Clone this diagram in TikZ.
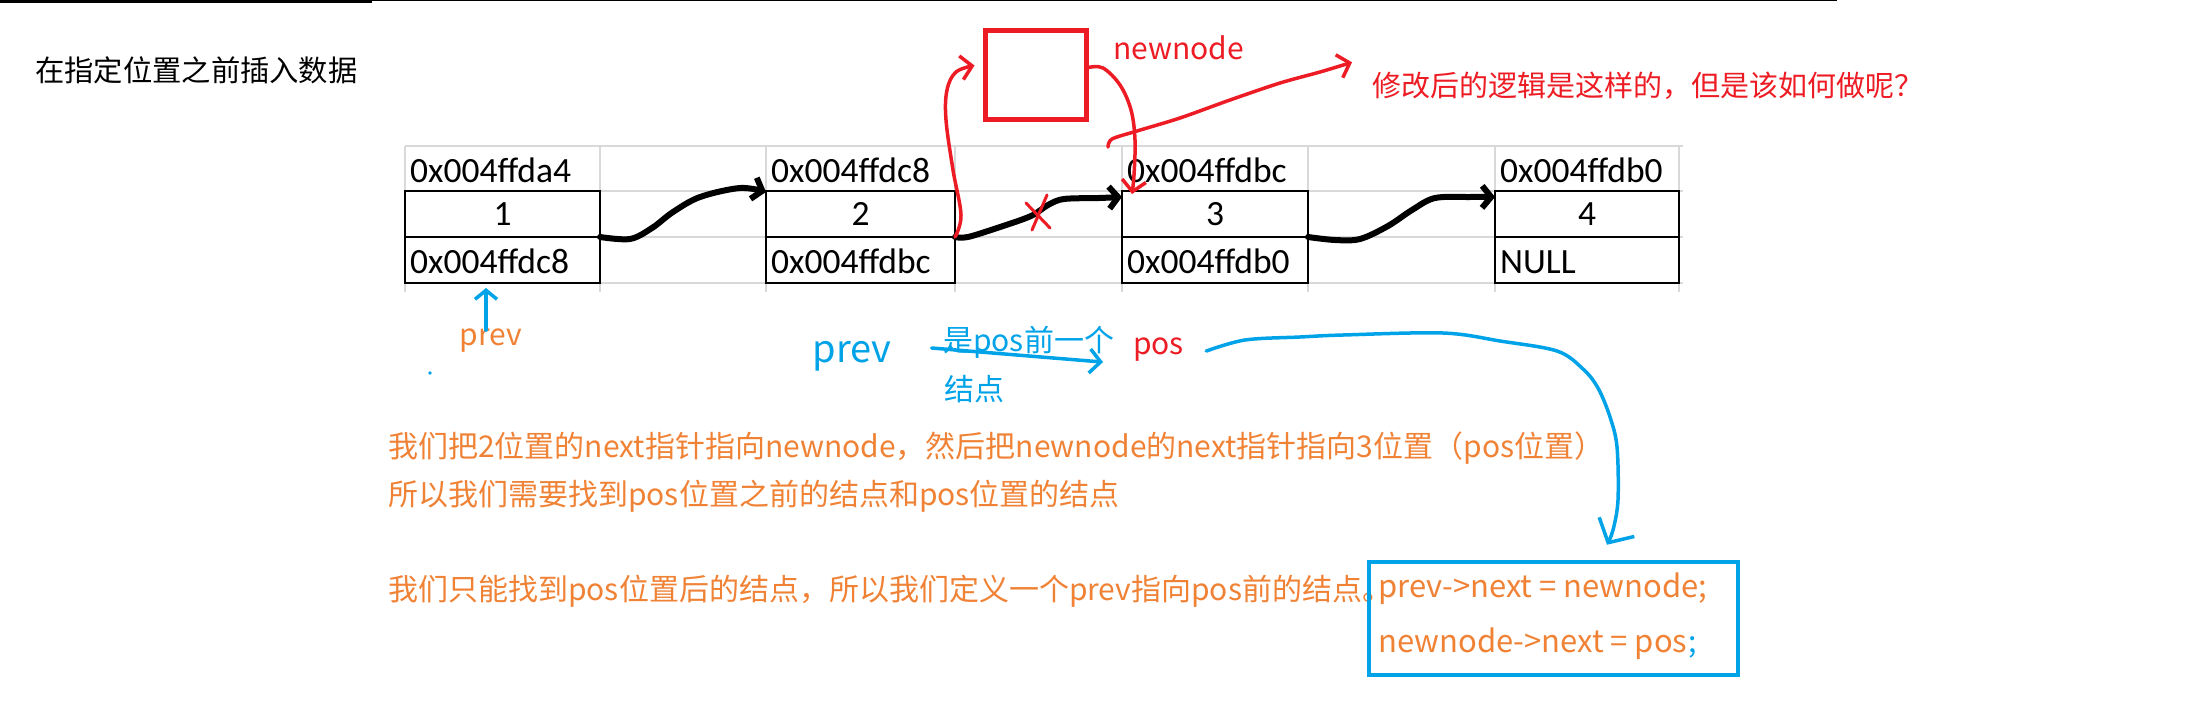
\documentclass[tikz,border=0pt]{standalone}
\usepackage{fontspec}
\setmainfont{Carlito}
\newfontfamily\cjk{Noto Sans CJK SC}
\usetikzlibrary{arrows.meta,calc}
\definecolor{pred}{HTML}{ED1C24}
\definecolor{pblue}{HTML}{00A2E8}
\definecolor{porange}{HTML}{F08236}
\definecolor{gridgray}{HTML}{D9D9D9}
\begin{document}
\begin{tikzpicture}[x=1pt,y=-1pt,
  gridline/.style={gridgray, line width=1.2pt},
  cell/.style={draw=black, line width=2.4pt, minimum width=#1, minimum height=46pt, inner sep=0pt, outer sep=0pt},
  tbl/.style={font=\fontsize{35.5}{40}\selectfont, inner sep=0pt},
  note/.style={font=\cjk\fontsize{30}{36}\selectfont, inner sep=0pt},
  pen/.style={line width=#1, line cap=round, line join=round},
  blkarrow/.style={pen=6pt, black, -{Straight Barb[length=9pt,width=22pt]}},
  redarrow/.style={pen=3.5pt, pred, -{Straight Barb[length=11pt,width=24pt]}},
  bluearrow/.style={pen=3.5pt, pblue, -{Straight Barb[length=11pt,width=24pt]}}]
\useasboundingbox (0,0) rectangle (2197,726);
% top rule
\draw[line width=3pt] (0,1.3) -- (372,1.3);
\draw[line width=1.3pt] (372,0.7) -- (1837,0.7);
% title
\node[note, font=\cjk\fontsize{29.3}{34}\selectfont, anchor=base west] (title) at (35,81) {在指定位置之前插入数据};
% grid
\foreach \yy in {146,191,237,283} \draw[gridline] (405,\yy) -- (1683,\yy);
\foreach \xx in {405,600,766,955,1122,1308,1495,1679} \draw[gridline] (\xx,146) -- (\xx,292);
% list nodes
\node[cell=195pt, tbl] (d1) at (502.5,214) {1};
\node[cell=195pt] (n1) at (502.5,260) {};
\node[cell=189pt, tbl] (d2) at (860.5,214) {2};
\node[cell=189pt] (n2) at (860.5,260) {};
\node[cell=186pt, tbl] (d3) at (1215,214) {3};
\node[cell=186pt] (n3) at (1215,260) {};
\node[cell=184pt, tbl] (d4) at (1587,214) {4};
\node[cell=184pt] (n4) at (1587,260) {};
\node[tbl, anchor=base west] (a1) at (410,182) {0x004ffda4};
\node[tbl, anchor=base west] (a2) at (771,182) {0x004ffdc8};
\node[tbl, anchor=base west] (a3) at (1127,182) {0x004ffdbc};
\node[tbl, anchor=base west] (a4) at (1500,182) {0x004ffdb0};
\node[tbl, anchor=base west] (t1) at (410,273) {0x004ffdc8};
\node[tbl, anchor=base west] (t2) at (771,273) {0x004ffdbc};
\node[tbl, anchor=base west] (t3) at (1127,273) {0x004ffdb0};
\node[tbl, anchor=base west] (t4) at (1500,273) {NULL};
% black links
\draw[blkarrow] plot[smooth, tension=0.55] coordinates {(n1.north east) (630,239) (652,228) (673,212) (700,197) (740,188) ([yshift=-1pt]d2.north west)};
\draw[blkarrow] plot[smooth, tension=0.55] coordinates {(n2.north east) (968,237) (1000,227) (1031,216) (1048,205) (1064,199) (1099,198) ([yshift=-6pt]d3.north west)};
\draw[blkarrow] plot[smooth, tension=0.55] coordinates {(n3.north east) (1335,240) (1360,239) (1388,226) (1412,210) (1435,198) (1470,197) ([yshift=-6pt]d4.north west)};
% red cross
\draw[pen=3pt, pred] (1047,195) -- (1032,230);
\draw[pen=3pt, pred] (1026,203) -- (1050,228);
% new node
\node[draw=pred, line width=5pt, minimum width=101pt, minimum height=89pt, inner sep=0pt] (nn) at (1035.5,74.5) {};
\node[note, text=pred, anchor=base west] (nnl) at (1113,59) {newnode};
\node[note, font=\cjk\fontsize{29}{34}\selectfont, text=pred, anchor=base west] (q) at (1372,96) {修改后的逻辑是这样的，但是该如何做呢？};
\draw[redarrow] plot[smooth, tension=0.6] coordinates {(n2.north east) (961,215) (953,170) (946,120) (947,90) (956,72) ([xshift=-8pt,yshift=9pt]nn.west)};
\draw[redarrow] plot[smooth, tension=0.6] coordinates {([yshift=7pt]nn.east) (1103,68) (1120,85) (1131,110) (1135,140) (1134,175) ([xshift=10pt,yshift=-3pt]d3.north west)};
\coordinate (rs) at (1108,147);
\draw[redarrow] plot[smooth, tension=0.5] coordinates {(rs) (1112,139) (1137,131) (1180,118) (1230,100) (1280,83) (1320,72) ([xshift=-20pt,yshift=23pt]q.west)};
% prev pointer
\node[note, text=porange, anchor=base] (pv) at (491,345) {prev};
\draw[bluearrow, -{Straight Barb[length=9pt,width=22pt]}] ([xshift=-5pt,yshift=-2pt]pv.north) -- ($(n1.south)+(-16.5,5)$);
\fill[pblue] (430,373) circle (1.8);
% handwritten prev -> pos
\node[note, font=\cjk\fontsize{38}{44}\selectfont, text=pblue] (hw) at (852,356) {prev};
\node[note, text=pred, anchor=base west] (pos) at (1133,354) {pos};
\node[note, text=pblue, anchor=base west] (bt1) at (943,351) {是pos前一个};
\node[note, text=pblue, anchor=base west] (bt2) at (944,400) {结点};
\draw[bluearrow] ([xshift=40pt,yshift=8pt]hw.east) -- ([xshift=-30pt,yshift=-13pt]pos.west);
% explanation
\node[note, text=porange, anchor=base west] (l1) at (388,457) {我们把2位置的next指针指向newnode，然后把newnode的next指针指向3位置（pos位置）};
\node[note, text=porange, anchor=base west] (l2) at (388,505) {所以我们需要找到pos位置之前的结点和pos位置的结点};
\node[note, text=porange, anchor=base west] (l3) at (388,600) {我们只能找到pos位置后的结点，所以我们定义一个prev指向pos前的结点。};
% code box
\node[draw=pblue, line width=4.5pt, minimum width=369pt, minimum height=113pt, inner sep=0pt] (bx) at (1553.5,618.5) {};
\node[note, font=\cjk\fontsize{31}{36}\selectfont, text=porange, anchor=base west] (c1) at (1378,597) {prev->next = newnode;};
\node[note, font=\cjk\fontsize{31}{36}\selectfont, text=porange, anchor=base west] (c2) at (1378,652) {newnode->next = pos};
\node[note, text=pblue, anchor=base west] (semi) at ([xshift=1pt]c2.base east) {;};
\draw[bluearrow, -{Straight Barb[length=18pt,width=40pt]}] plot[smooth, tension=0.55] coordinates {([xshift=22pt,yshift=-2pt]pos.east) (1245,340) (1300,337) (1343,335) (1443,333) (1500,341) (1557,351) (1583,369) (1598,388) (1610,417) (1617,447) (1618,500) (1613,530) ([xshift=53.5pt,yshift=15pt]bx.north)};
\end{tikzpicture}
\end{document}
